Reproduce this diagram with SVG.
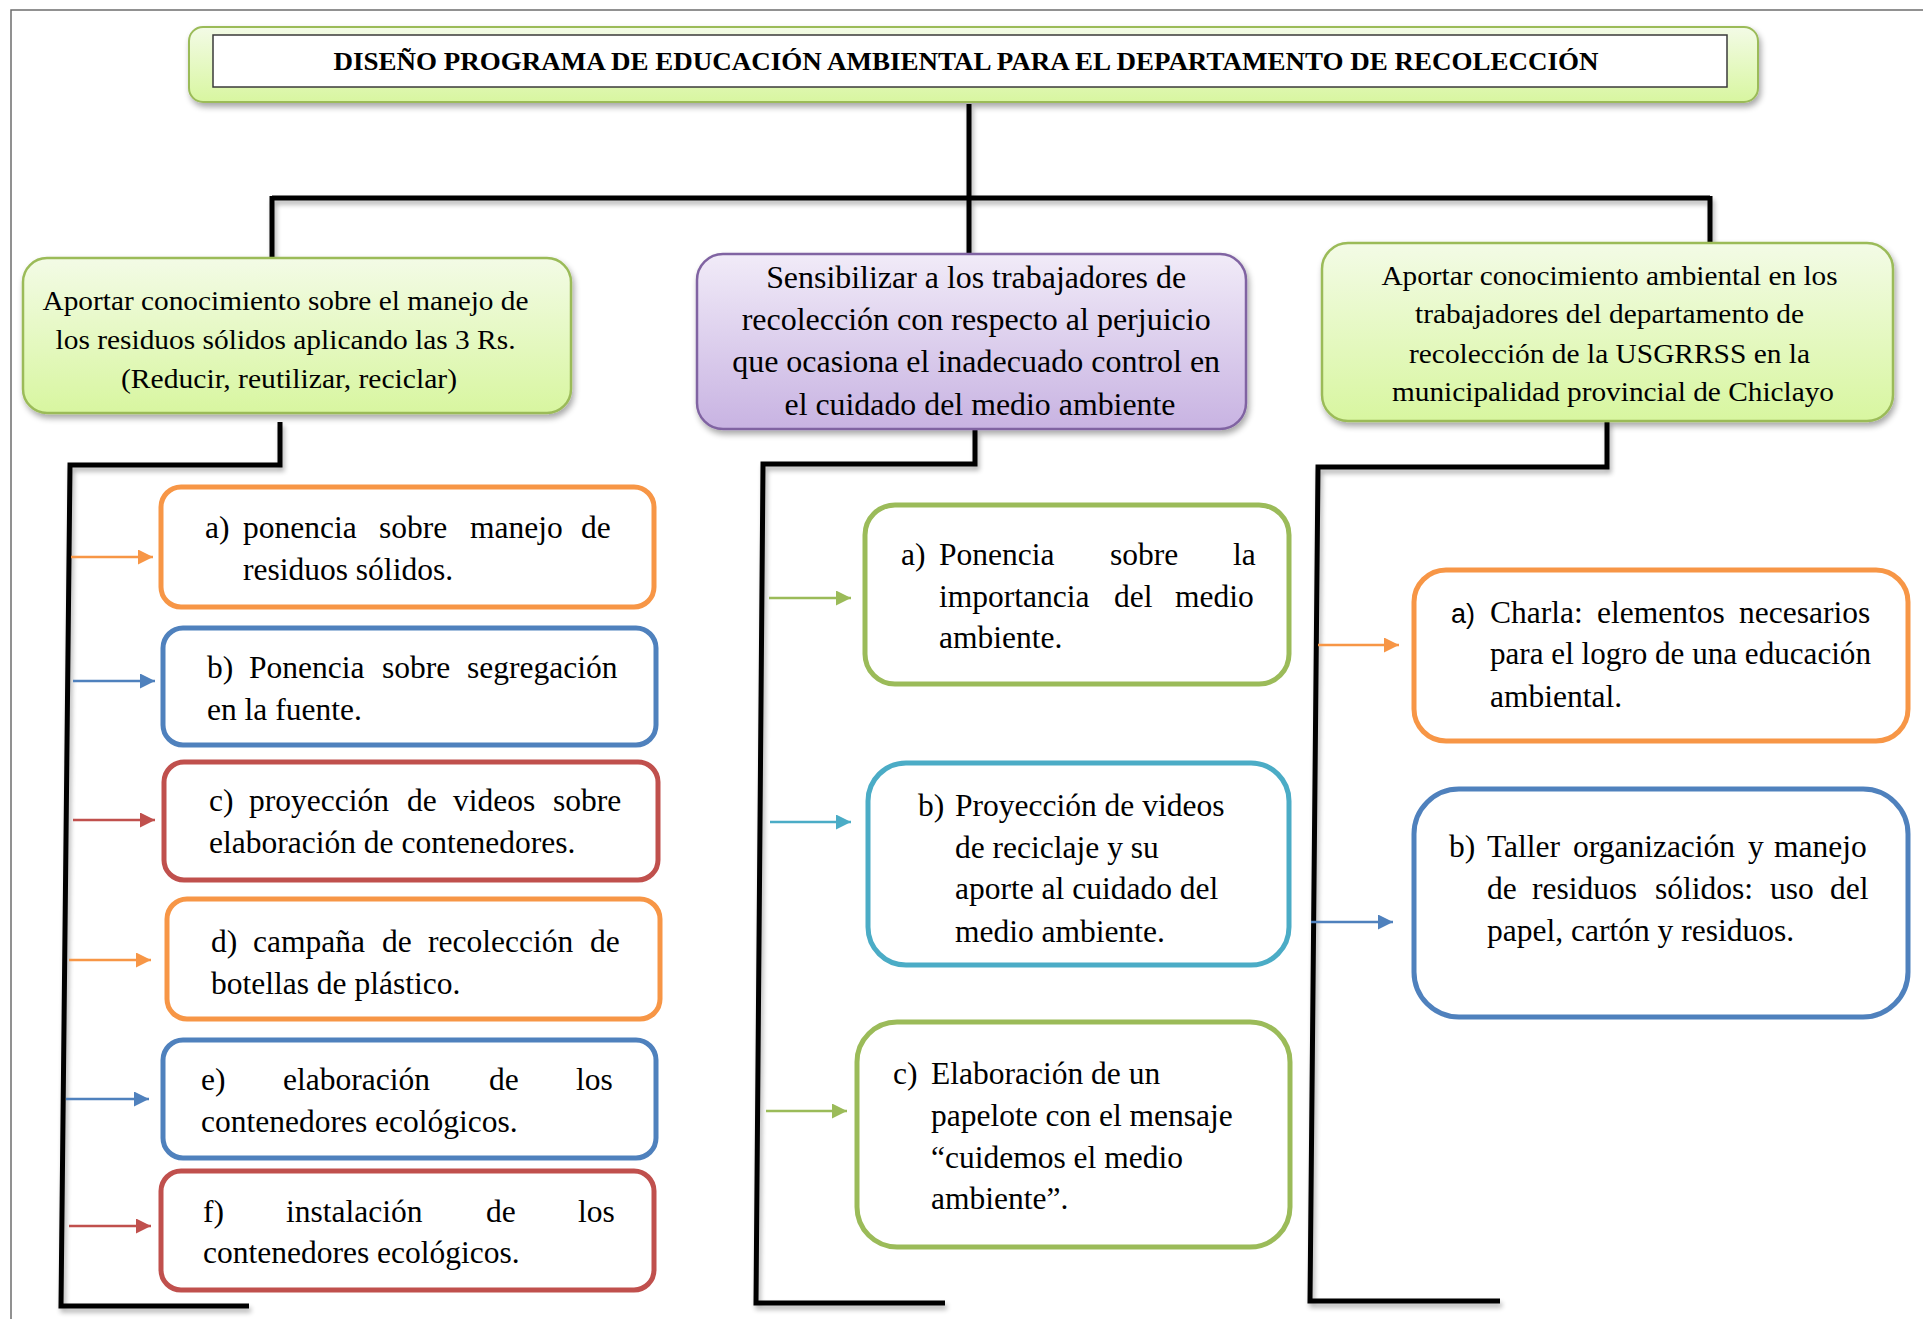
<svg xmlns="http://www.w3.org/2000/svg" width="1923" height="1319" viewBox="0 0 1923 1319">
<defs>
<style>
.t{font-family:"Liberation Serif","Times New Roman",serif;fill:#000;}
.hd{font-size:28px;}
.hdm{font-size:31px;}
.act{font-size:31.5px;}
.ttl{font-size:26px;font-weight:bold;}
.box{fill:#fff;stroke-width:5;}
.or{stroke:#f79646;}
.bl{stroke:#4f81bd;}
.rd{stroke:#c0504d;}
.gr{stroke:#9bbb59;}
.tl{stroke:#4bacc6;}
.conn{fill:none;stroke:#000;stroke-width:5;stroke-linejoin:miter;}
.arr{stroke-width:2.5;fill:none;}
</style>
<linearGradient id="gGreen" x1="0" y1="0" x2="0" y2="1">
<stop offset="0" stop-color="#f3fbe6"/>
<stop offset="1" stop-color="#d8f6a0"/>
</linearGradient>
<linearGradient id="gPurple" x1="0" y1="0" x2="0" y2="1">
<stop offset="0" stop-color="#f1ebf8"/>
<stop offset="1" stop-color="#c8b3e2"/>
</linearGradient>
<filter id="sh" x="-5%" y="-10%" width="110%" height="140%">
<feGaussianBlur in="SourceAlpha" stdDeviation="3"/>
<feOffset dx="2" dy="4" result="o"/>
<feComponentTransfer><feFuncA type="linear" slope="0.35"/></feComponentTransfer>
<feMerge><feMergeNode/><feMergeNode in="SourceGraphic"/></feMerge>
</filter>
<filter id="lsh" filterUnits="userSpaceOnUse" x="0" y="0" width="1923" height="1319">
<feGaussianBlur in="SourceAlpha" stdDeviation="2.5"/>
<feOffset dx="2" dy="4"/>
<feComponentTransfer><feFuncA type="linear" slope="0.3"/></feComponentTransfer>
<feMerge><feMergeNode/><feMergeNode in="SourceGraphic"/></feMerge>
</filter>
<marker id="mOr" viewBox="0 0 10 10" refX="10" refY="5" markerUnits="userSpaceOnUse" markerWidth="15" markerHeight="15" orient="auto"><path d="M0,0 L10,5 L0,10 z" fill="#f79646"/></marker>
<marker id="mBl" viewBox="0 0 10 10" refX="10" refY="5" markerUnits="userSpaceOnUse" markerWidth="15" markerHeight="15" orient="auto"><path d="M0,0 L10,5 L0,10 z" fill="#4f81bd"/></marker>
<marker id="mRd" viewBox="0 0 10 10" refX="10" refY="5" markerUnits="userSpaceOnUse" markerWidth="15" markerHeight="15" orient="auto"><path d="M0,0 L10,5 L0,10 z" fill="#c0504d"/></marker>
<marker id="mGr" viewBox="0 0 10 10" refX="10" refY="5" markerUnits="userSpaceOnUse" markerWidth="15" markerHeight="15" orient="auto"><path d="M0,0 L10,5 L0,10 z" fill="#9bbb59"/></marker>
<marker id="mTl" viewBox="0 0 10 10" refX="10" refY="5" markerUnits="userSpaceOnUse" markerWidth="15" markerHeight="15" orient="auto"><path d="M0,0 L10,5 L0,10 z" fill="#4bacc6"/></marker>
</defs>
<rect x="0" y="0" width="1923" height="1319" fill="#fff"/>
<path d="M11,1319 V10 H1923" fill="none" stroke="#6d6d6d" stroke-width="1.5"/>

<g id="connectors">
<g filter="url(#lsh)">
<path class="conn" d="M969,104 V198"/>
<path class="conn" d="M272,198 H1710"/>
<path class="conn" d="M272,196 V258"/>
<path class="conn" d="M969,196 V254"/>
<path class="conn" d="M1710,196 V243"/>
<path class="conn" d="M280,422 V465 H70 L61,1306 H249"/>
<path class="conn" d="M975,430 V464 H763 L756,1303 H945"/>
<path class="conn" d="M1607,421 V467 H1318 L1310,1301 H1500"/>
</g>
<line class="arr" x1="71" y1="557" x2="153" y2="557" stroke="#f79646" marker-end="url(#mOr)"/>
<line class="arr" x1="73" y1="681" x2="155" y2="681" stroke="#4f81bd" marker-end="url(#mBl)"/>
<line class="arr" x1="73" y1="820" x2="155" y2="820" stroke="#c0504d" marker-end="url(#mRd)"/>
<line class="arr" x1="69" y1="960" x2="151" y2="960" stroke="#f79646" marker-end="url(#mOr)"/>
<line class="arr" x1="66" y1="1099" x2="149" y2="1099" stroke="#4f81bd" marker-end="url(#mBl)"/>
<line class="arr" x1="69" y1="1226" x2="151" y2="1226" stroke="#c0504d" marker-end="url(#mRd)"/>
<line class="arr" x1="769" y1="598" x2="851" y2="598" stroke="#9bbb59" marker-end="url(#mGr)"/>
<line class="arr" x1="770" y1="822" x2="851" y2="822" stroke="#4bacc6" marker-end="url(#mTl)"/>
<line class="arr" x1="766" y1="1111" x2="847" y2="1111" stroke="#9bbb59" marker-end="url(#mGr)"/>
<line class="arr" x1="1318" y1="645" x2="1399" y2="645" stroke="#f79646" marker-end="url(#mOr)"/>
<line class="arr" x1="1311" y1="922" x2="1393" y2="922" stroke="#4f81bd" marker-end="url(#mBl)"/>
</g>

<g id="title">
<rect x="189" y="27" width="1569" height="75" rx="14" fill="url(#gGreen)" stroke="#9bbb59" stroke-width="2" filter="url(#sh)"/>
<rect x="213" y="35" width="1514" height="52" fill="#fff" stroke="#3a3a3a" stroke-width="1.5"/>
<text class="t ttl" x="966" y="70" text-anchor="middle" textLength="1265" lengthAdjust="spacingAndGlyphs">DISEÑO PROGRAMA DE EDUCACIÓN AMBIENTAL PARA EL DEPARTAMENTO DE RECOLECCIÓN</text>
</g>

<g id="obj1">
<rect x="23" y="258" width="548" height="155" rx="24" fill="url(#gGreen)" stroke="#9bbb59" stroke-width="2.5" filter="url(#sh)"/>
<text class="t hd" text-anchor="middle">
<tspan x="289" y="310" textLength="486" lengthAdjust="spacingAndGlyphs">Aportar conocimiento sobre el manejo de</tspan>
<tspan x="289" y="349" textLength="460" lengthAdjust="spacingAndGlyphs">los residuos sólidos aplicando las 3 Rs.</tspan>
<tspan x="289" y="388" textLength="336" lengthAdjust="spacingAndGlyphs">(Reducir, reutilizar, reciclar)</tspan>
</text>
</g>

<g id="obj2">
<rect x="697" y="254" width="549" height="175" rx="26" fill="url(#gPurple)" stroke="#8064a2" stroke-width="2.5" filter="url(#sh)"/>
<text class="t hdm" text-anchor="middle">
<tspan x="980" y="288" textLength="420" lengthAdjust="spacingAndGlyphs">Sensibilizar a los trabajadores de</tspan>
<tspan x="980" y="330" textLength="469" lengthAdjust="spacingAndGlyphs">recolección con respecto al perjuicio</tspan>
<tspan x="980" y="372" textLength="488" lengthAdjust="spacingAndGlyphs">que ocasiona el inadecuado control en</tspan>
<tspan x="980" y="415" textLength="391" lengthAdjust="spacingAndGlyphs">el cuidado del medio ambiente</tspan>
</text>
</g>

<g id="obj3">
<rect x="1322" y="243" width="571" height="178" rx="26" fill="url(#gGreen)" stroke="#9bbb59" stroke-width="2.5" filter="url(#sh)"/>
<text class="t hd" text-anchor="middle">
<tspan x="1613" y="285" textLength="456" lengthAdjust="spacingAndGlyphs">Aportar conocimiento ambiental en los</tspan>
<tspan x="1613" y="323" textLength="389" lengthAdjust="spacingAndGlyphs">trabajadores del departamento de</tspan>
<tspan x="1613" y="363" textLength="401" lengthAdjust="spacingAndGlyphs">recolección de la USGRRSS en la</tspan>
<tspan x="1613" y="401" textLength="442" lengthAdjust="spacingAndGlyphs">municipalidad provincial de Chiclayo</tspan>
</text>
</g>

<g id="act-1a">
<rect class="box or" x="161" y="487" width="493" height="120" rx="20"/>
<text class="t act" y="538"><tspan x="205">a)</tspan><tspan x="243">ponencia</tspan><tspan x="379">sobre</tspan><tspan x="470">manejo</tspan><tspan x="581">de</tspan></text>
<text class="t act" x="243" y="580">residuos sólidos.</text>
</g>
<g id="act-1b">
<rect class="box bl" x="163" y="628" width="493" height="117" rx="20"/>
<text class="t act" y="678"><tspan x="207">b)</tspan><tspan x="249">Ponencia</tspan><tspan x="382">sobre</tspan><tspan x="467">segregación</tspan></text>
<text class="t act" x="207" y="720">en la fuente.</text>
</g>
<g id="act-1c">
<rect class="box rd" x="164" y="762" width="494" height="118" rx="20"/>
<text class="t act" y="811"><tspan x="209">c)</tspan><tspan x="249">proyección</tspan><tspan x="407">de</tspan><tspan x="453">videos</tspan><tspan x="553">sobre</tspan></text>
<text class="t act" x="209" y="853">elaboración de contenedores.</text>
</g>
<g id="act-1d">
<rect class="box or" x="167" y="899" width="493" height="120" rx="20"/>
<text class="t act" y="952"><tspan x="211">d)</tspan><tspan x="253">campaña</tspan><tspan x="382">de</tspan><tspan x="428">recolección</tspan><tspan x="590">de</tspan></text>
<text class="t act" x="211" y="994">botellas de plástico.</text>
</g>
<g id="act-1e">
<rect class="box bl" x="163" y="1040" width="493" height="118" rx="20"/>
<text class="t act" y="1090"><tspan x="201">e)</tspan><tspan x="283">elaboración</tspan><tspan x="489">de</tspan><tspan x="576">los</tspan></text>
<text class="t act" x="201" y="1132">contenedores ecológicos.</text>
</g>
<g id="act-1f">
<rect class="box rd" x="161" y="1171" width="493" height="119" rx="20"/>
<text class="t act" y="1222"><tspan x="203">f)</tspan><tspan x="286">instalación</tspan><tspan x="486">de</tspan><tspan x="578">los</tspan></text>
<text class="t act" x="203" y="1263">contenedores ecológicos.</text>
</g>

<g id="act-2a">
<rect class="box gr" x="865" y="505" width="424" height="179" rx="30"/>
<text class="t act" y="565"><tspan x="901">a)</tspan><tspan x="939">Ponencia</tspan><tspan x="1110">sobre</tspan><tspan x="1233">la</tspan></text>
<text class="t act" y="607"><tspan x="939">importancia</tspan><tspan x="1114">del</tspan><tspan x="1175">medio</tspan></text>
<text class="t act" x="939" y="648">ambiente.</text>
</g>
<g id="act-2b">
<rect class="box tl" x="868" y="763" width="421" height="202" rx="38"/>
<text class="t act" x="918" y="816">b)</text>
<text class="t act"><tspan x="955" y="816">Proyección de videos</tspan><tspan x="955" y="858">de reciclaje y su</tspan><tspan x="955" y="899">aporte al cuidado del</tspan><tspan x="955" y="942">medio ambiente.</tspan></text>
</g>
<g id="act-2c">
<rect class="box gr" x="857" y="1022" width="433" height="225" rx="40"/>
<text class="t act" x="893" y="1084">c)</text>
<text class="t act"><tspan x="931" y="1084">Elaboración de un</tspan><tspan x="931" y="1126">papelote con el mensaje</tspan><tspan x="931" y="1168">“cuidemos el medio</tspan><tspan x="931" y="1209">ambiente”.</tspan></text>
</g>

<g id="act-3a">
<rect class="box or" x="1414" y="570" width="494" height="171" rx="32"/>
<text x="1451" y="623" font-family="'Liberation Sans', Arial, sans-serif" font-size="27">a)</text>
<text class="t act" y="623"><tspan x="1490">Charla:</tspan><tspan x="1597">elementos</tspan><tspan x="1739">necesarios</tspan></text>
<text class="t act" x="1490" y="664" textLength="381" lengthAdjust="spacingAndGlyphs">para el logro de una educación</text>
<text class="t act" x="1490" y="707">ambiental.</text>
</g>
<g id="act-3b">
<rect class="box bl" x="1414" y="789" width="494" height="228" rx="45"/>
<text class="t act" y="857"><tspan x="1449">b)</tspan><tspan x="1487">Taller</tspan><tspan x="1573">organización</tspan><tspan x="1748">y</tspan><tspan x="1774">manejo</tspan></text>
<text class="t act" y="899"><tspan x="1487">de</tspan><tspan x="1532">residuos</tspan><tspan x="1655">sólidos:</tspan><tspan x="1770">uso</tspan><tspan x="1830">del</tspan></text>
<text class="t act" x="1487" y="941">papel, cartón y residuos.</text>
</g>
</svg>
